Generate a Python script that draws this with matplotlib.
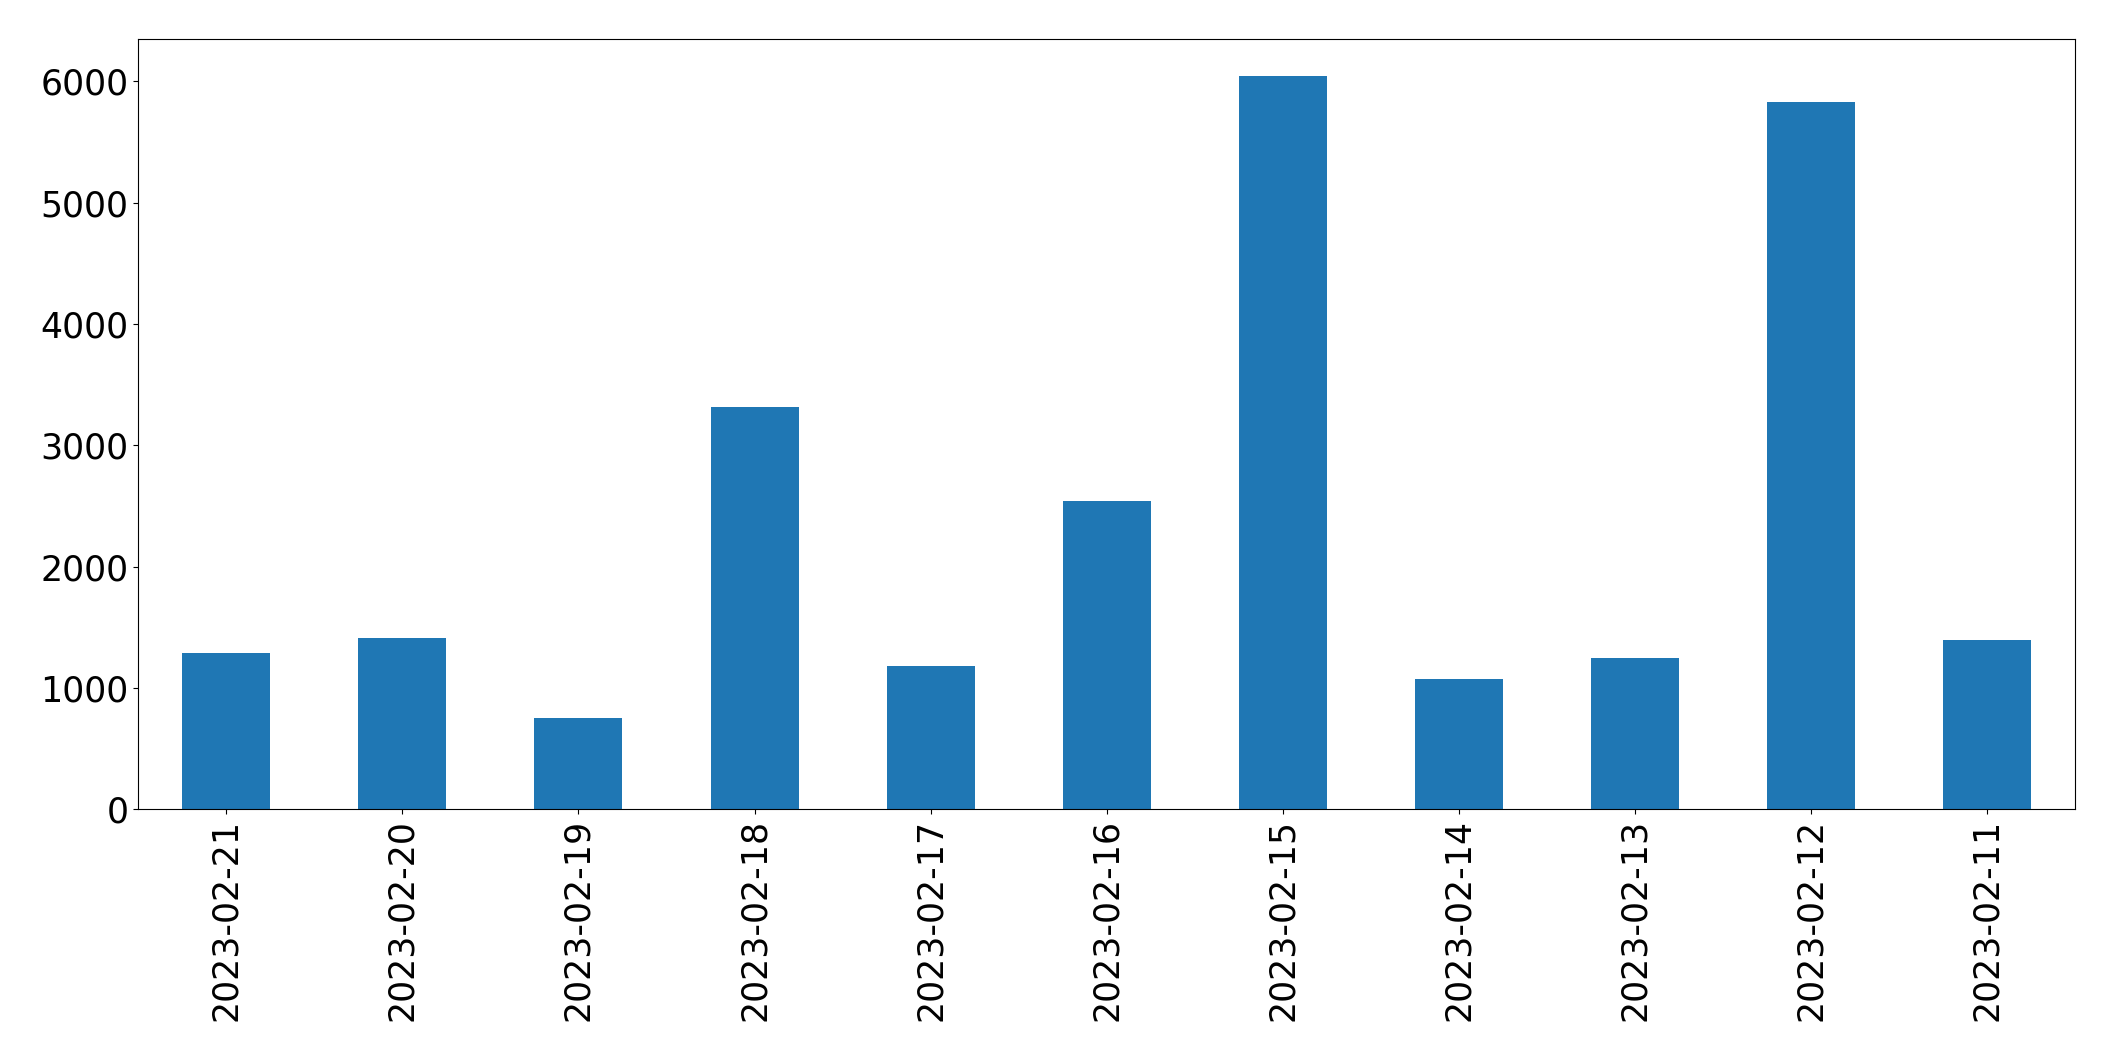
import matplotlib
matplotlib.use("Agg")
import matplotlib.pyplot as plt
import numpy as np

# daily counts, newest first (as in the reference)
dates = ['2023-02-21', '2023-02-20', '2023-02-19', '2023-02-18', '2023-02-17', '2023-02-16',
         '2023-02-15', '2023-02-14', '2023-02-13', '2023-02-12', '2023-02-11']
counts = [1288, 1410, 753, 3317, 1181, 2542, 6045, 1074, 1247, 5831, 1396]

fig = plt.figure(figsize=(21.15, 10.61), dpi=100)
ax = fig.add_axes([0.0654, 0.2372, 0.9157, 0.7258])

x_pos = np.arange(len(dates))
ax.bar(x_pos, counts, width=0.5, color='#1f77b4', align='center')
ax.set_xlim(-0.5, len(dates) - 0.5)
ax.set_xticks(x_pos)
ax.set_xticklabels(dates, rotation=90)
ax.tick_params(axis='both', labelsize=25)

fig.savefig("out.png", dpi=100)
